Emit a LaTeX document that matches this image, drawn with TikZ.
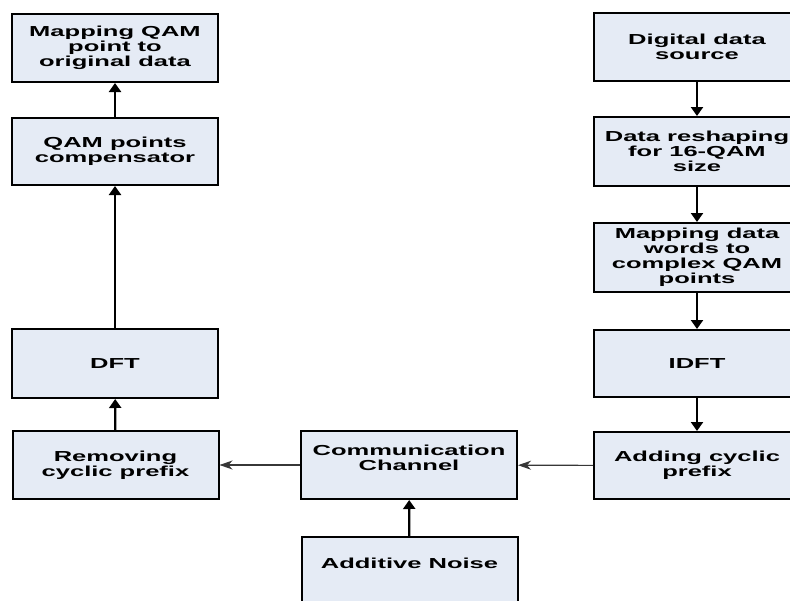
\documentclass[tikz,border=0pt]{standalone}
\usepackage{fontspec}
\usetikzlibrary{arrows.meta}
\newfontfamily\lblfont{Liberation Sans}[FakeStretch=1.76]
\definecolor{boxfill}{RGB}{229,235,245}
\definecolor{thinline}{RGB}{55,55,55}
\tikzset{
  blk/.style={draw=black, line width=2pt, fill=boxfill, minimum width=206pt,
    minimum height=68pt, inner sep=0pt, align=center,
    font=\lblfont\bfseries\fontsize{14.5}{15}\selectfont},
  uparr/.style={line width=2.2pt, -{Triangle[length=9pt 0 0,width=12pt 0 0]}},
  sidearr/.style={line width=1.1pt, draw=thinline, -{Stealth[length=13pt 0 0,width=9pt 0 0,inset=4pt 0]}, color=thinline}
}
\begin{document}
\begin{tikzpicture}[x=1pt,y=-1pt]
\useasboundingbox (0,0) rectangle (790,600);
\clip (0,0) rectangle (790,600);
\node[blk, minimum height=68pt] (mapq) at (115,48) {Mapping QAM\\point to\\original data};
\node[blk, minimum height=67pt] (comp) at (115,151.5) {QAM points\\compensator};
\node[blk, minimum height=69pt] (dft) at (115,363.5) {DFT};
\node[blk] (rem) at (115.5,465) {Removing\\cyclic prefix};
\node[blk, minimum width=216pt] (comm) at (409,465) {Communication\\Channel\\\phantom{C}};
\node[blk, minimum width=216pt] (noise) at (409.5,571) {Additive Noise\\\phantom{A}};
\node[blk] (src) at (697,47) {Digital data\\source};
\node[blk, minimum height=69pt] (resh) at (697,151.5) {Data reshaping\\for 16-QAM\\size};
\node[blk, minimum height=69pt] (mapw) at (697,257.5) {Mapping data\\words to\\complex QAM\\points};
\node[blk, minimum height=67pt] (idft) at (697,363.5) {IDFT};
\node[blk, minimum height=67pt] (add) at (697,465.5) {Adding cyclic\\prefix};
\draw[uparr] (comp) -- (mapq);
\draw[uparr] (dft) -- (comp);
\draw[uparr] (rem) -- (dft);
\draw[uparr] (noise) -- (comm);
\draw[uparr] (src) -- (resh);
\draw[uparr] (resh) -- (mapw);
\draw[uparr] (mapw) -- (idft);
\draw[uparr] (idft) -- (add);
\draw[sidearr] (comm) -- (rem);
\draw[sidearr] (add) -- (comm);
\end{tikzpicture}
\end{document}
